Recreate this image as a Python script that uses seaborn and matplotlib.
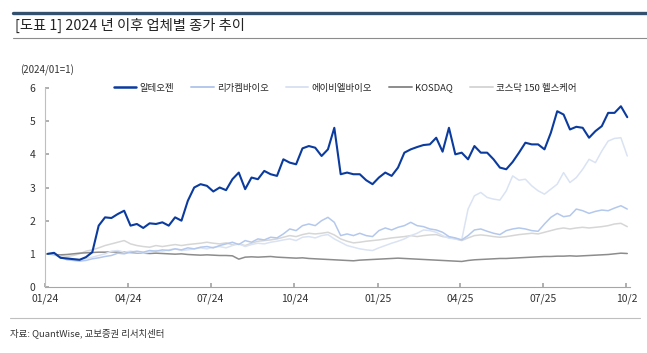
import matplotlib
matplotlib.use('Agg')
from matplotlib import pyplot as plt
from matplotlib.lines import Line2D
import seaborn as sns
import pandas as pd
import numpy as np

sns.set_theme(style='white')
plt.rcParams['font.family'] = ['Noto Sans CJK KR', 'DejaVu Sans']

# weekly closes, 2024/01 = 1
dates = pd.date_range('2024-01-04', periods=92, freq='7D')

alteogen = [1.00, 1.03, 0.88, 0.86, 0.84, 0.82, 0.90, 1.05, 1.85, 2.10,
            2.08, 2.20, 2.30, 1.85, 1.90, 1.78, 1.92, 1.90, 1.95, 1.85,
            2.10, 2.00, 2.60, 3.00, 3.10, 3.05, 2.88, 3.00, 2.92, 3.25,
            3.45, 2.95, 3.30, 3.25, 3.50, 3.40, 3.35, 3.85, 3.75, 3.70,
            4.18, 4.25, 4.20, 3.95, 4.15, 4.80, 3.40, 3.45, 3.40, 3.40,
            3.22, 3.10, 3.30, 3.45, 3.35, 3.60, 4.05, 4.15, 4.22, 4.28,
            4.30, 4.50, 4.08, 4.80, 4.00, 4.05, 3.85, 4.25, 4.05, 4.05,
            3.85, 3.60, 3.55, 3.77, 4.05, 4.35, 4.30, 4.30, 4.15, 4.65,
            5.30, 5.20, 4.75, 4.83, 4.80, 4.50, 4.70, 4.85, 5.25, 5.25,
            5.45, 5.12]

ligachem = [1.00, 0.98, 0.90, 0.82, 0.80, 0.78, 0.80, 0.85, 0.88, 0.92,
            0.95, 1.02, 1.00, 1.05, 1.08, 1.05, 1.10, 1.08, 1.12, 1.10,
            1.15, 1.12, 1.18, 1.15, 1.20, 1.22, 1.18, 1.25, 1.30, 1.35,
            1.28, 1.40, 1.35, 1.45, 1.42, 1.50, 1.48, 1.60, 1.75, 1.70,
            1.85, 1.90, 1.85, 2.00, 2.10, 1.95, 1.55, 1.60, 1.55, 1.62,
            1.55, 1.52, 1.70, 1.78, 1.72, 1.80, 1.85, 1.95, 1.85, 1.82,
            1.75, 1.72, 1.65, 1.52, 1.48, 1.42, 1.55, 1.72, 1.75, 1.68,
            1.62, 1.58, 1.70, 1.75, 1.78, 1.75, 1.70, 1.68, 1.90, 2.10,
            2.22, 2.12, 2.15, 2.35, 2.30, 2.22, 2.28, 2.32, 2.30, 2.38,
            2.45, 2.35]

ablbio = [1.00, 0.97, 0.92, 0.88, 0.85, 0.83, 0.86, 0.90, 0.95, 1.00,
          1.08, 1.10, 1.05, 1.08, 1.05, 1.02, 1.05, 1.10, 1.08, 1.12,
          1.15, 1.10, 1.12, 1.15, 1.18, 1.15, 1.20, 1.22, 1.18, 1.25,
          1.30, 1.22, 1.28, 1.32, 1.30, 1.35, 1.38, 1.42, 1.45, 1.40,
          1.50, 1.52, 1.48, 1.55, 1.58, 1.45, 1.35, 1.25, 1.20, 1.15,
          1.12, 1.10, 1.18, 1.25, 1.32, 1.38, 1.45, 1.55, 1.62, 1.72,
          1.70, 1.65, 1.55, 1.47, 1.45, 1.42, 2.35, 2.75, 2.85, 2.70,
          2.65, 2.62, 2.90, 3.35, 3.22, 3.25, 3.05, 2.90, 2.80, 2.95,
          3.10, 3.45, 3.15, 3.30, 3.55, 3.85, 3.75, 4.10, 4.40, 4.48,
          4.50, 3.95]

kosdaq = [1.00, 0.98, 0.97, 0.98, 1.00, 1.02, 1.03, 1.04, 1.05, 1.05,
          1.06, 1.05, 1.06, 1.04, 1.03, 1.02, 1.01, 1.02, 1.01, 1.00,
          0.99, 1.00, 0.98, 0.97, 0.96, 0.97, 0.96, 0.95, 0.95, 0.94,
          0.84, 0.90, 0.91, 0.90, 0.91, 0.92, 0.90, 0.89, 0.88, 0.87,
          0.88, 0.86, 0.85, 0.84, 0.83, 0.82, 0.81, 0.80, 0.79, 0.81,
          0.82, 0.83, 0.84, 0.85, 0.86, 0.87, 0.86, 0.85, 0.84, 0.83,
          0.82, 0.81, 0.80, 0.79, 0.78, 0.77, 0.80, 0.82, 0.83, 0.84,
          0.85, 0.86, 0.86, 0.87, 0.88, 0.89, 0.90, 0.91, 0.92, 0.92,
          0.93, 0.93, 0.94, 0.93, 0.94, 0.95, 0.96, 0.97, 0.98, 1.00,
          1.02, 1.01]

kq150_hc = [1.00, 0.98, 0.95, 0.92, 0.95, 1.00, 1.08, 1.12, 1.18, 1.25,
            1.30, 1.35, 1.40, 1.30, 1.25, 1.22, 1.20, 1.25, 1.22, 1.25,
            1.28, 1.25, 1.28, 1.30, 1.32, 1.35, 1.32, 1.30, 1.33, 1.28,
            1.30, 1.25, 1.32, 1.38, 1.40, 1.42, 1.45, 1.50, 1.55, 1.52,
            1.58, 1.62, 1.60, 1.62, 1.65, 1.57, 1.45, 1.38, 1.33, 1.35,
            1.38, 1.40, 1.42, 1.45, 1.48, 1.50, 1.52, 1.55, 1.52, 1.55,
            1.57, 1.58, 1.52, 1.50, 1.45, 1.40, 1.48, 1.55, 1.57, 1.55,
            1.52, 1.50, 1.52, 1.55, 1.58, 1.60, 1.62, 1.60, 1.65, 1.70,
            1.75, 1.78, 1.75, 1.78, 1.80, 1.78, 1.80, 1.82, 1.85, 1.90,
            1.92, 1.82]

names = ['알테오젠', '리가켐바이오', '에이비엘바이오', 'KOSDAQ', '코스닥 150 헬스케어']
series = [alteogen, ligachem, ablbio, kosdaq, kq150_hc]
colors = ['#0B3B9E', '#B4C8EC', '#DAE3F3', '#8C8C8C', '#D6D6D6']
widths = [1.5, 1.1, 1.1, 1.1, 1.1]
tick_dates = pd.to_datetime(['2024-01-01', '2024-04-01', '2024-07-01', '2024-10-01',
                             '2025-01-01', '2025-04-01', '2025-07-01', '2025-10-01'])
tick_labels = ['01/24', '04/24', '07/24', '10/24', '01/25', '04/25', '07/25', '10/2']

fig = plt.figure(figsize=(6.47, 3.53), dpi=100)
ax = fig.add_axes([45 / 647, 1 - 287 / 353, 585 / 647, 199 / 353])

# draw light lines first so the blue one stays on top
for i in [4, 3, 2, 1, 0]:
    df = pd.DataFrame({'date': dates, 'value': series[i]})
    sns.lineplot(data=df, x='date', y='value', ax=ax, color=colors[i],
                 linewidth=widths[i], zorder=5 - i)

ax.set_xlim(pd.Timestamp('2024-01-01'), pd.Timestamp('2025-10-05'))
ax.set_ylim(0, 6)
ax.set_yticks(range(0, 7))
ax.set_xticks(tick_dates)
ax.set_xticklabels(tick_labels)
ax.set_xlabel('')
ax.set_ylabel('')
ax.tick_params(direction='in', length=3, color='#A6A6A6', labelsize=7.5,
               labelcolor='#333333', left=True, bottom=True)
ax.tick_params(axis='y', pad=7)
ax.tick_params(axis='x', pad=5)
for s in ['top', 'right']:
    ax.spines[s].set_visible(False)
ax.spines['left'].set_color('#BFBFBF')
ax.spines['bottom'].set_color('#A6A6A6')
ax.spines['left'].set_linewidth(0.8)
ax.spines['bottom'].set_linewidth(0.8)

handles = [Line2D([], [], color=colors[i], linewidth=widths[i] + 0.3) for i in range(5)]
fig.legend(handles, names, loc='center', bbox_to_anchor=(345 / 647, 1 - 88 / 353),
           ncol=5, frameon=False, fontsize=6.8, handlelength=2.4,
           handletextpad=0.35, columnspacing=1.8)

fig.text(20 / 647, 1 - 70 / 353, '(2024/01=1)', fontsize=7, color='#333333', va='center')

# header and footer
fig.add_artist(Line2D([13 / 647, 1], [1 - 13 / 353] * 2, color='#34506F', linewidth=2.4))
fig.text(15 / 647, 1 - 25 / 353, '[도표 1] 2024 년 이후 업체별 종가 추이', fontsize=10.3,
         color='#222222', va='center')
fig.add_artist(Line2D([13 / 647, 1], [1 - 38 / 353] * 2, color='#8C8C8C', linewidth=0.8))
fig.add_artist(Line2D([10 / 647, 640 / 647], [1 - 318 / 353] * 2, color='#BFBFBF', linewidth=0.8))
fig.text(10 / 647, 1 - 333 / 353, '자료: QuantWise, 교보증권 리서치센터', fontsize=6.8,
         color='#333333', va='center')

fig.savefig('out.png', dpi=100)
